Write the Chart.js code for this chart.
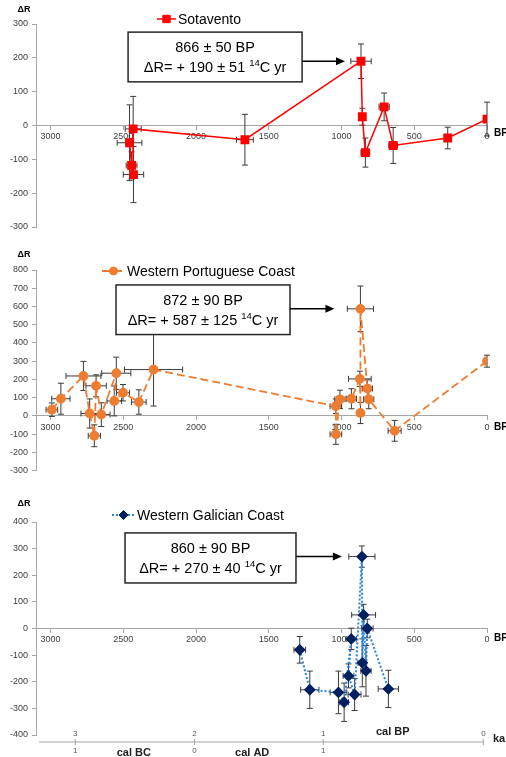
<!DOCTYPE html>
<html>
<head>
<meta charset="utf-8">
<script src="https://cdn.jsdelivr.net/npm/chart.js@4/dist/chart.umd.min.js"></script>
<style>
  body { margin: 0; background: #fff; }
  #wrap { position: relative; width: 506px; height: 757px; overflow: hidden; }
  canvas { position: absolute; left: 0; }
</style>
</head>
<body>
<div id="wrap">
  <canvas id="c1" width="506" height="248" style="top:0"></canvas>
  <canvas id="c2" width="506" height="232" style="top:248px"></canvas>
  <canvas id="c3" width="506" height="277" style="top:480px"></canvas>
</div>
<script>
// Sotavento
const sotaBP    = [2457, 2443, 2430, 2432, 1664, 866, 857, 836, 707, 645, 270, 0];
const sotaDR    = [-51, -118, -145, -10, -42, 190, 26, -80, 55, -59, -37, 19];
const sotaBPerr = [85, 37, 70, 55, 58, 70, 20, 30, 35, 30, 18, 0];
const sotaDRerr = [112, 40, 83, 96, 75, 51, 25, 43, 41, 53, 32, 50];

// Western Portuguese Coast
const wpcBP    = [2991, 2929, 2774, 2731, 2699, 2687, 2651, 2548, 2562, 2502, 2393, 2292, 1039, 1039, 1011, 932, 874, 870, 870, 822, 813, 635, 0];
const wpcDR    = [34, 94, 219, 13, -109, 165, 7, 234, 82, 127, 76, 254, 53, -101, 91, 94, 203, 16, 587, 150, 91, -82, 300];
const wpcBPerr = [40, 63, 120, 60, 42, 70, 60, 100, 50, 45, 50, 200, 40, 40, 35, 35, 78, 0, 90, 35, 35, 45, 0];
const wpcDRerr = [37, 85, 80, 80, 60, 60, 65, 88, 82, 45, 67, 200, 40, 55, 50, 55, 42, 58, 125, 47, 52, 57, 33];

// Western Galician Coast
const wgcBP    = [1287, 1218, 1021, 982, 933, 952, 910, 860, 857, 848, 832, 823, 678];
const wgcDR    = [-80, -230, -240, -277, -39, -178, -248, 270, -129, 51, -159, 0, -227];
const wgcBPerr = [40, 63, 57, 30, 35, 37, 44, 90, 30, 82, 35, 40, 70];
const wgcDRerr = [50, 70, 80, 72, 40, 45, 60, 40, 90, 40, 95, 35, 70];

// x axis ticks (14C yr BP)
const bpTicks = [0, 500, 1000, 1500, 2000, 2500, 3000];

// highlighted samples (annotation boxes)
const sotaNote = { age: '866 ± 50 BP', dr: '+ 190 ± 51', idx: 5, box: [2467, 1271, 276, 129] };
const wpcNote  = { age: '872 ± 90 BP', dr: '+ 587 ± 125', idx: 18, box: [2550, 1354, 718, 446] };
const wgcNote  = { age: '860 ± 90 BP', dr: '+ 270 ± 40', idx: 7, box: [2488, 1313, 359, 171] };

// secondary calendar axis under the last panel
const kaTickBP     = [2830, 2010, 1125, 25];
const kaTickLabels = ['3', '2', '1', '0'];
const calTickLabels = ['1', '0', '1', ''];
const calEraBP     = [2428, 1614];
const calEraLabels = ['cal BC', 'cal AD'];

const FONT = '"Liberation Sans", Arial, sans-serif';
const AXIS_GREY = '#a6a6a6';
const TEXT_GREY = '#404040';

const toPoints = (xs, ys) => xs.map((v, i) => ({ x: v, y: ys[i] }));

const errorBars = {
  id: 'errorBars',
  beforeDatasetsDraw(chart) {
    const { ctx, scales: { x, y } } = chart;
    const ds = chart.data.datasets[0];
    ctx.save();
    ctx.strokeStyle = '#3a3a3a';
    ctx.lineWidth = 1;
    ds.data.forEach((p, i) => {
      const px = x.getPixelForValue(p.x), py = y.getPixelForValue(p.y);
      const ex = ds.xErr[i], ey = ds.yErr[i];
      ctx.beginPath();
      if (ey) {
        const y1 = y.getPixelForValue(p.y + ey), y2 = y.getPixelForValue(p.y - ey);
        ctx.moveTo(px, y1); ctx.lineTo(px, y2);
        ctx.moveTo(px - 3, y1); ctx.lineTo(px + 3, y1);
        ctx.moveTo(px - 3, y2); ctx.lineTo(px + 3, y2);
      }
      if (ex) {
        const x1 = x.getPixelForValue(p.x + ex), x2 = x.getPixelForValue(p.x - ex);
        ctx.moveTo(x1, py); ctx.lineTo(x2, py);
        ctx.moveTo(x1, py - 3); ctx.lineTo(x1, py + 3);
        ctx.moveTo(x2, py - 3); ctx.lineTo(x2, py + 3);
      }
      ctx.stroke();
    });
    ctx.restore();
  }
};

// legend, labels, annotation box + arrow
const decorations = {
  id: 'decorations',
  afterDatasetsDraw(chart, args, o) {
    const { ctx, chartArea: ca, scales: { x, y } } = chart;
    const ds = chart.data.datasets[0];
    ctx.save();

    // axis titles
    ctx.fillStyle = '#000';
    ctx.font = 'bold 9px ' + FONT;
    ctx.textAlign = 'center';
    ctx.textBaseline = 'middle';
    ctx.fillText('ΔR', 24, ca.top + o.drLabelDy);
    ctx.font = 'bold 10px ' + FONT;
    ctx.textAlign = 'left';
    ctx.fillText('BP', ca.right + 7, y.getPixelForValue(0) + o.bpLabelDy);

    // legend
    const [lx0, lx1, ly] = o.legend;
    ctx.strokeStyle = ds.borderColor;
    ctx.lineWidth = ds.borderWidth;
    ctx.setLineDash(ds.borderDash || []);
    ctx.beginPath(); ctx.moveTo(lx0, ly); ctx.lineTo(lx1, ly); ctx.stroke();
    ctx.setLineDash([]);
    ctx.fillStyle = ds.pointBackgroundColor;
    ctx.strokeStyle = ds.pointBackgroundColor;
    ctx.lineWidth = 1;
    Chart.helpers.drawPoint(ctx, { pointStyle: ds.pointStyle, radius: ds.pointRadius, rotation: 0, borderWidth: 1 }, (lx0 + lx1) / 2, ly);
    ctx.fillStyle = '#000';
    ctx.font = '14px ' + FONT;
    ctx.textAlign = 'left';
    ctx.fillText(ds.label, lx1 + 2, ly + 1);

    // annotation box
    const n = o.note;
    const bx0 = x.getPixelForValue(n.box[0]), bx1 = x.getPixelForValue(n.box[1]);
    const by0 = y.getPixelForValue(n.box[2]), by1 = y.getPixelForValue(n.box[3]);
    ctx.fillStyle = '#fff';
    ctx.fillRect(bx0, by0, bx1 - bx0, by1 - by0);
    ctx.strokeStyle = '#262626';
    ctx.lineWidth = 1.5;
    ctx.strokeRect(bx0, by0, bx1 - bx0, by1 - by0);

    const cx = (bx0 + bx1) / 2;
    ctx.fillStyle = '#000';
    ctx.font = '14.5px ' + FONT;
    ctx.textAlign = 'center';
    ctx.fillText(n.age, cx, by0 + 16);
    const partA = 'ΔR= ' + n.dr + ' ', partSup = '14', partB = 'C yr';
    ctx.font = '14.5px ' + FONT;
    const wA = ctx.measureText(partA).width, wB = ctx.measureText(partB).width;
    ctx.font = '9.5px ' + FONT;
    const wS = ctx.measureText(partSup).width;
    const tx = cx - (wA + wS + wB) / 2;
    const ty = by0 + 36;
    ctx.textAlign = 'left';
    ctx.font = '14.5px ' + FONT;
    ctx.fillText(partA, tx, ty);
    ctx.font = '9.5px ' + FONT;
    ctx.fillText(partSup, tx + wA, ty - 5);
    ctx.font = '14.5px ' + FONT;
    ctx.fillText(partB, tx + wA + wS, ty);

    // arrow to the highlighted point
    const p = ds.data[n.idx];
    const ay = y.getPixelForValue(p.y);
    const tip = x.getPixelForValue(p.x) - o.arrowGap;
    ctx.strokeStyle = '#000';
    ctx.lineWidth = 1.5;
    ctx.beginPath(); ctx.moveTo(bx1, ay); ctx.lineTo(tip - 8, ay); ctx.stroke();
    ctx.fillStyle = '#000';
    ctx.beginPath();
    ctx.moveTo(tip, ay); ctx.lineTo(tip - 9, ay - 4); ctx.lineTo(tip - 9, ay + 4);
    ctx.closePath(); ctx.fill();

    ctx.restore();
  }
};

// calendar age axis (ka cal BP / cal BC-AD)
const calAxis = {
  id: 'calAxis',
  afterDraw(chart, args, o) {
    if (!o.show) return;
    const { ctx, chartArea: ca, scales: { x } } = chart;
    const ly = ca.bottom + 7;
    ctx.save();
    ctx.strokeStyle = AXIS_GREY;
    ctx.lineWidth = 1;
    ctx.beginPath();
    ctx.moveTo(ca.left + 3, ly);
    ctx.lineTo(x.getPixelForValue(kaTickBP[kaTickBP.length - 1]), ly);
    kaTickBP.forEach(v => {
      const px = x.getPixelForValue(v);
      ctx.moveTo(px, ly - 3); ctx.lineTo(px, ly + 3);
    });
    ctx.stroke();
    ctx.fillStyle = '#595959';
    ctx.font = '8px ' + FONT;
    ctx.textAlign = 'center';
    ctx.textBaseline = 'middle';
    kaTickBP.forEach((v, i) => {
      const px = x.getPixelForValue(v);
      ctx.fillText(kaTickLabels[i], px, ly - 8);
      ctx.fillText(calTickLabels[i], px, ly + 9);
    });
    ctx.fillStyle = '#222';
    ctx.font = 'bold 11px ' + FONT;
    calEraBP.forEach((v, i) => ctx.fillText(calEraLabels[i], x.getPixelForValue(v), ly + 11));
    ctx.fillText('cal BP', x.getPixelForValue(648), ly - 10);
    ctx.textAlign = 'left';
    ctx.fillText('ka', ca.right + 6, ly - 3);
    ctx.restore();
  }
};

function makeChart(id, ds, yMin, yMax, pad, deco, cal) {
  return new Chart(document.getElementById(id), {
    type: 'scatter',
    data: { datasets: [ds] },
    plugins: [errorBars, decorations, calAxis],
    options: {
      responsive: false,
      animation: false,
      devicePixelRatio: 1,
      layout: { padding: { left: 0, right: 19, top: pad[0], bottom: pad[1] } },
      plugins: {
        legend: { display: false },
        tooltip: { enabled: false },
        decorations: deco,
        calAxis: { show: cal }
      },
      scales: {
        x: {
          type: 'linear',
          position: { y: 0 },
          reverse: true,
          min: 0,
          max: 3100,
          afterBuildTicks: s => { s.ticks = bpTicks.map(v => ({ value: v })); },
          grid: { drawOnChartArea: false, tickLength: 4, color: AXIS_GREY },
          border: { color: AXIS_GREY },
          ticks: {
            autoSkip: false,
            maxRotation: 0,
            padding: 2,
            color: TEXT_GREY,
            font: { size: 9, family: FONT },
            callback: v => String(v)
          }
        },
        y: {
          min: yMin,
          max: yMax,
          afterFit: s => { s.width = 36; },
          grid: { drawOnChartArea: false, tickLength: 4, color: AXIS_GREY },
          border: { color: AXIS_GREY },
          ticks: { stepSize: 100, padding: 4, color: TEXT_GREY, font: { size: 9, family: FONT } }
        }
      }
    }
  });
}

makeChart('c1', {
  label: 'Sotavento',
  data: toPoints(sotaBP, sotaDR),
  xErr: sotaBPerr, yErr: sotaDRerr,
  showLine: true,
  borderColor: '#ff0000',
  borderWidth: 1.5,
  pointStyle: 'rect',
  pointRadius: 5.2,
  pointBackgroundColor: '#ff0000',
  pointBorderColor: '#ff0000'
}, -300, 300, [24, 21],
  { legend: [157, 176, 19], note: sotaNote, arrowGap: 16, drLabelDy: -14, bpLabelDy: 8 }, false);

makeChart('c2', {
  label: 'Western Portuguese Coast',
  data: toPoints(wpcBP, wpcDR),
  xErr: wpcBPerr, yErr: wpcDRerr,
  showLine: true,
  borderColor: '#ed7d31',
  borderWidth: 1.8,
  borderDash: [8, 4],
  pointStyle: 'circle',
  pointRadius: 4,
  pointBackgroundColor: '#ed7d31',
  pointBorderColor: '#ed7d31'
}, -300, 800, [22, 8],
  { legend: [102, 125, 23], note: wpcNote, arrowGap: 26, drLabelDy: -15, bpLabelDy: 11 }, false);

makeChart('c3', {
  label: 'Western Galician Coast',
  data: toPoints(wgcBP, wgcDR),
  xErr: wgcBPerr, yErr: wgcDRerr,
  showLine: true,
  borderColor: '#2e86d6',
  borderWidth: 2,
  borderDash: [2, 2],
  pointStyle: 'rectRot',
  pointRadius: 4.5,
  pointBackgroundColor: '#002060',
  pointBorderColor: '#002060'
}, -400, 400, [42, 22],
  { legend: [112, 135, 35], note: wgcNote, arrowGap: 20, drLabelDy: -18, bpLabelDy: 10 }, true);
</script>
</body>
</html>
